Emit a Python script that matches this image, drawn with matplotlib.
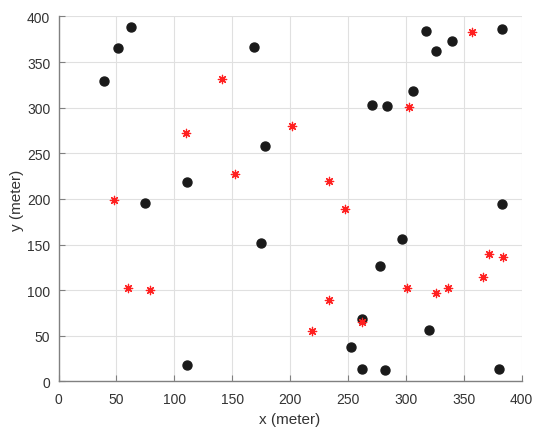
import matplotlib
matplotlib.use("Agg")
import matplotlib.pyplot as plt

# black nodes
node_x = [39, 51, 63, 169, 178, 111, 75, 317, 326, 340, 383, 306, 271, 284, 383,
          175, 111, 297, 278, 262, 320, 253, 262, 282, 380]
node_y = [329, 365, 388, 366, 258, 218, 196, 384, 362, 373, 386, 318, 303, 302, 194,
          152, 18, 156, 126, 68, 56, 38, 14, 12, 13]

# red asterisks
star_x = [141, 110, 152, 48, 357, 303, 202, 234, 247, 60, 79,
          372, 384, 367, 301, 326, 336, 234, 219, 262]
star_y = [332, 272, 227, 199, 383, 301, 280, 220, 189, 102, 100,
          140, 136, 114, 102, 97, 102, 89, 55, 65]

ticks = [0, 50, 100, 150, 200, 250, 300, 350, 400]

plt.rcParams['font.family'] = ['Liberation Sans', 'DejaVu Sans']
dark = '#333333'

fig = plt.figure(figsize=(5.5, 4.35), dpi=100)
ax = fig.add_axes([0.1064, 0.1211, 0.8421, 0.8387])

ax.scatter(node_x, node_y, s=42, color='#1a1a1a', zorder=3)
ax.scatter(star_x, star_y, s=36, marker=(8, 2, 0), color='#ff2020',
           linewidths=0.9, zorder=4)

ax.set_xlim(0, 400)
ax.set_ylim(0, 400)
ax.set_xticks(ticks)
ax.set_yticks(ticks)
ax.grid(True, color='#e0e0e0', linewidth=0.8)
ax.set_axisbelow(True)

for side in ['top', 'right']:
    ax.spines[side].set_visible(False)
for side in ['left', 'bottom']:
    ax.spines[side].set_color('#808080')
    ax.spines[side].set_linewidth(1.0)

ax.tick_params(direction='in', length=4, colors='#808080', labelcolor=dark,
               labelsize=10)
ax.tick_params(axis='x', pad=8)
ax.tick_params(axis='y', pad=6)
ax.set_xlabel('x (meter)', fontsize=11, color=dark, labelpad=4)
ax.set_ylabel('y (meter)', fontsize=11, color=dark, labelpad=2)

fig.savefig('out.png', dpi=100)
